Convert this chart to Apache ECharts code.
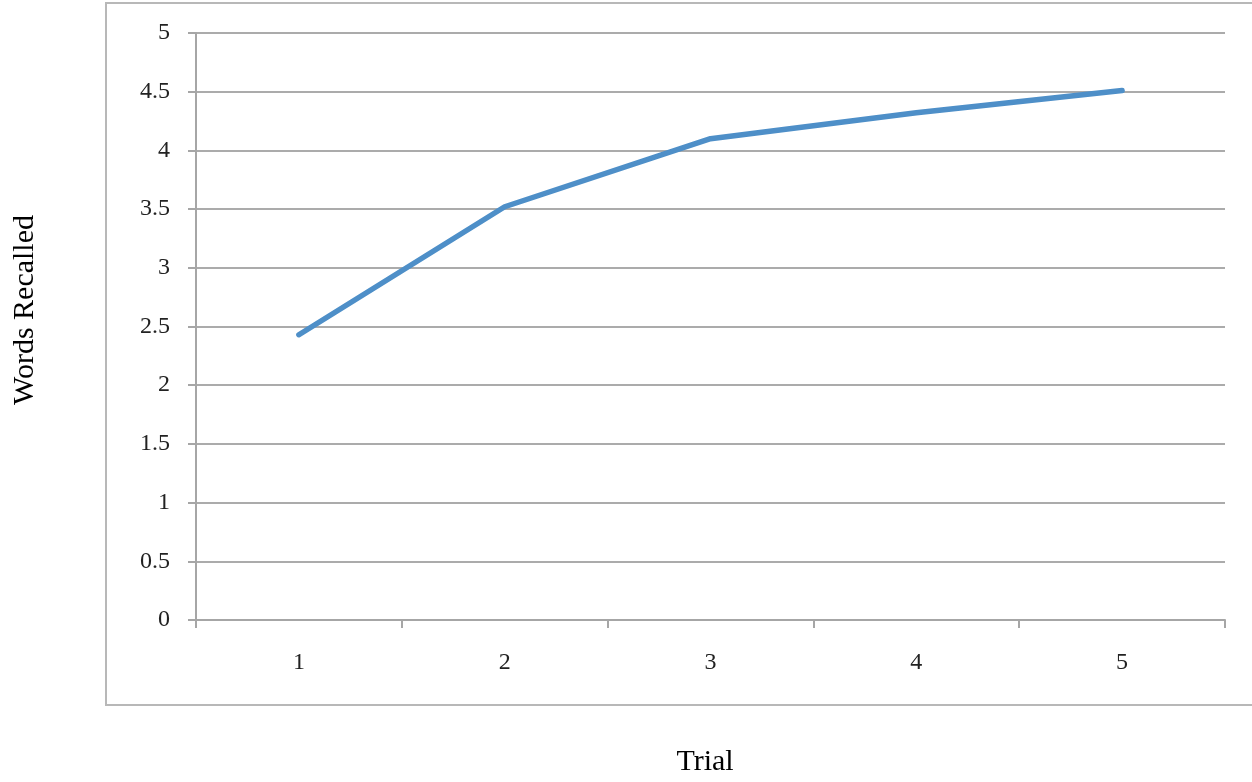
<!DOCTYPE html>
<html>
<head>
<meta charset="utf-8">
<script src="https://cdn.jsdelivr.net/npm/echarts@6/dist/echarts.min.js"></script>
<style>
  html, body { margin: 0; padding: 0; background: #fff; }
  #chart { width: 1252px; height: 782px; }
</style>
</head>
<body>
<div id="chart"></div>
<script>
// Mean number of words recalled on each learning trial
const trials = ['1', '2', '3', '4', '5'];
const wordsRecalled = [2.43, 3.52, 4.1, 4.32, 4.51];
const yTicks = { min: 0, max: 5, interval: 0.5 };
const xTitle = 'Trial';
const yTitle = 'Words Recalled';

const chart = echarts.init(document.getElementById('chart'), null, { renderer: 'canvas' });

const tickFont = { fontFamily: 'Liberation Serif', fontSize: 24, color: '#222' };
const titleFont = 'Liberation Serif';

chart.setOption({
  animation: false,
  backgroundColor: '#fff',
  graphic: [
    {
      type: 'rect',
      shape: { x: 106, y: 3, width: 1160, height: 702 },
      style: { fill: 'none', stroke: '#b8b8b8', lineWidth: 2 },
      silent: true,
      z: -1
    },
    {
      type: 'text',
      x: 25, y: 310,
      rotation: Math.PI / 2,
      style: { text: yTitle, font: '30px "' + titleFont + '"', fill: '#000', align: 'center', verticalAlign: 'middle' },
      silent: true
    },
    {
      type: 'text',
      x: 705, y: 762,
      style: { text: xTitle, font: '30px "' + titleFont + '"', fill: '#000', align: 'center', verticalAlign: 'middle' },
      silent: true
    }
  ],
  grid: { left: 196, top: 33, right: 27, bottom: 162, containLabel: false },
  xAxis: {
    type: 'category',
    data: trials,
    boundaryGap: true,
    axisLine: { show: true, lineStyle: { color: '#a6a6a6', width: 2 } },
    axisTick: { show: true, inside: false, length: 8, alignWithLabel: false, lineStyle: { color: '#a6a6a6', width: 2 } },
    axisLabel: Object.assign({ margin: 31 }, tickFont),
    splitLine: { show: false }
  },
  yAxis: {
    type: 'value',
    min: yTicks.min,
    max: yTicks.max,
    interval: yTicks.interval,
    axisLine: { show: true, lineStyle: { color: '#a6a6a6', width: 2 } },
    axisTick: { show: true, inside: false, length: 8, lineStyle: { color: '#a6a6a6', width: 2 } },
    axisLabel: Object.assign({ margin: 26 }, tickFont),
    splitLine: { show: true, lineStyle: { color: '#ababab', width: 2 } }
  },
  series: [{
    type: 'line',
    data: wordsRecalled,
    symbol: 'none',
    lineStyle: { color: '#4e8fc8', width: 5.5, cap: 'round', join: 'round' },
    itemStyle: { color: '#4e8fc8' }
  }]
});
</script>
</body>
</html>
